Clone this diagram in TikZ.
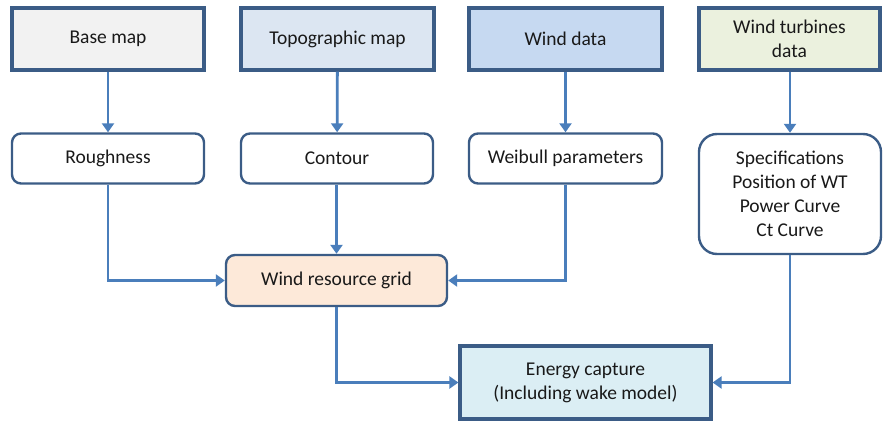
\documentclass[tikz,border=0pt]{standalone}
\usepackage{fontspec}
\setmainfont{Carlito}
\usetikzlibrary{arrows.meta}
\definecolor{conn}{HTML}{4A7EBB}
\definecolor{bord}{HTML}{3B5C86}
\definecolor{fbase}{HTML}{F2F2F2}
\definecolor{ftopo}{HTML}{DCE6F2}
\definecolor{fwind}{HTML}{C6D9F1}
\definecolor{fturb}{HTML}{EBF1DE}
\definecolor{fgrid}{HTML}{FDE9D9}
\definecolor{fener}{HTML}{DBEEF4}
\tikzset{
  topbox/.style={draw=bord, line width=3.2pt, minimum width=#1, minimum height=62pt, inner sep=0pt, align=center, font=\fontsize{19.5}{24}\selectfont, text=black!90},
  midbox/.style={draw=bord, line width=2.4pt, rounded corners=9pt, inner sep=0pt, align=center, font=\fontsize{19.5}{24}\selectfont, text=black!90},
  conn/.style={draw=conn, line width=2.8pt, -{Triangle[length=9pt,width=12pt]}},
}
\begin{document}
\begin{tikzpicture}[x=1pt,y=-1pt]
\useasboundingbox (0,0) rectangle (883,428);
% top boxes
\node[topbox=192pt, fill=fbase] (base) at (108,39) {Base map};
\node[topbox=193pt, fill=ftopo] (topo) at (337.5,39) {Topographic map};
\node[topbox=193pt, fill=fwind] (wind) at (565.5,39) {Wind data};
\node[topbox=181pt, fill=fturb] (turb) at (789.5,39) {Wind turbines\\data};
% middle boxes
\node[midbox, minimum width=192pt, minimum height=50pt] (rough) at (108,158.5) {Roughness};
\node[midbox, minimum width=192pt, minimum height=50pt] (cont) at (337,158.5) {Contour};
\node[midbox, minimum width=193pt, minimum height=50pt] (weib) at (565.5,158.5) {Weibull parameters};
\node[midbox, rounded corners=18pt, minimum width=182pt, minimum height=120pt] (spec) at (790,194) {Specifications\\Position of WT\\Power Curve\\Ct Curve};
% wind resource grid
\node[midbox, fill=fgrid, minimum width=221pt, minimum height=51pt] (grid) at (336.5,280.5) {Wind resource grid};
% energy
\node[topbox=251pt, fill=fener, minimum height=73pt] (ener) at (585.5,382.5) {Energy capture\\(Including wake model)};
% connectors
\draw[conn] (base) -- (rough);
\draw[conn] (topo) -- (cont);
\draw[conn] (wind) -- (weib);
\draw[conn] (turb.south -| spec.north) -- (spec.north);
\draw[conn] (rough.south) |- (grid.west);
\draw[conn] (cont.south -| grid.north) -- (grid.north);
\draw[conn] (weib.south) |- (grid.east);
\draw[conn] (grid.south) |- (ener.west);
\draw[conn] (spec.south) |- (ener.east);
\end{tikzpicture}
\end{document}
